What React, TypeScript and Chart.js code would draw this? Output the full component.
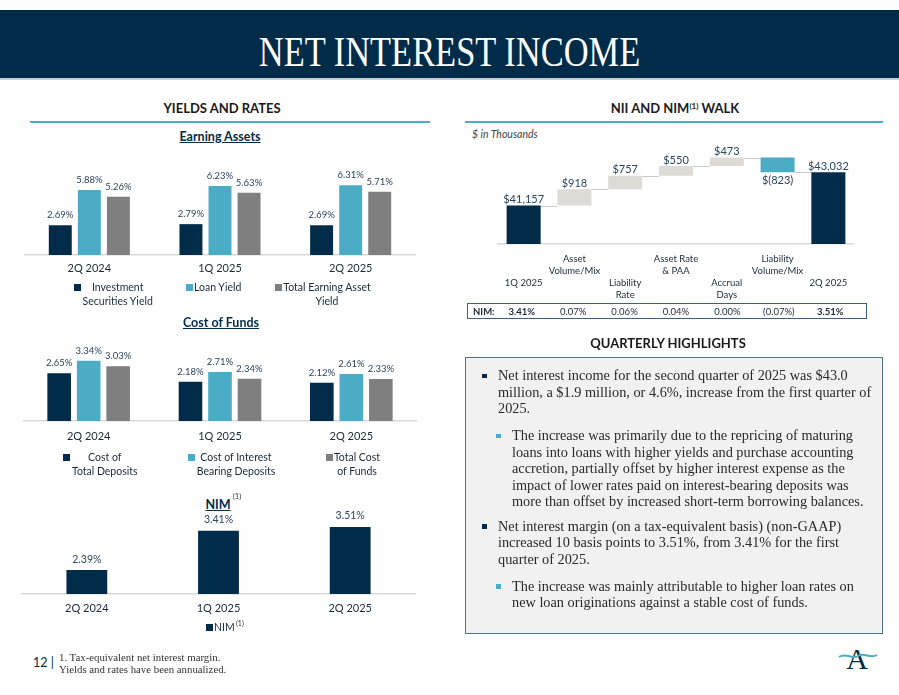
import React, { useEffect, useRef } from 'react';
import { Chart, registerables } from 'chart.js';

Chart.register(...registerables);

// ---------------- data ----------------
const quarters = ['2Q 2024', '1Q 2025', '2Q 2025'];

const earningSeriesNames = ['Investment Securities Yield', 'Loan Yield', 'Total Earning Asset Yield'];
const earningLegendLines = [['Investment', 'Securities Yield'], ['Loan Yield'], ['Total Earning Asset', 'Yield']];
const investmentSecuritiesYield = [2.69, 2.79, 2.69];
const loanYield = [5.88, 6.23, 6.31];
const totalEarningAssetYield = [5.26, 5.63, 5.71];

const fundsSeriesNames = ['Cost of Total Deposits', 'Cost of Interest Bearing Deposits', 'Total Cost of Funds'];
const fundsLegendLines = [['Cost of', 'Total Deposits'], ['Cost of Interest', 'Bearing Deposits'], ['Total Cost', 'of Funds']];
const costOfTotalDeposits = [2.65, 2.18, 2.12];
const costOfInterestBearingDeposits = [3.34, 2.71, 2.61];
const totalCostOfFunds = [3.03, 2.34, 2.33];

const nimValues = [2.39, 3.41, 3.51];

const walkCategories = [
  ['1Q 2025'],
  ['Asset', 'Volume/Mix'],
  ['Liability', 'Rate'],
  ['Asset Rate', '& PAA'],
  ['Accrual', 'Days'],
  ['Liability', 'Volume/Mix'],
  ['2Q 2025'],
];
const walkValues = [41157, 918, 757, 550, 473, -823, 43032];
const walkIsTotal = [true, false, false, false, false, false, true];
const walkNim = [3.41, 0.07, 0.06, 0.04, 0.0, -0.07, 3.51];

// ---------------- style ----------------
const NAVY = '#002B49';
const TEAL = '#4BACC6';
const GRAY = '#7F7F7F';
const FLOAT = '#DEDBD6';
const AXIS = '#D9D9D9';
const TICK = '#1B2A3A';
const VAL = '#2B4560';
const SANS = 'Lato, "Noto Sans", sans-serif';
const SERIF = '"Liberation Serif", "DejaVu Serif", serif';

function makeValueLabels(cfg: {
  format: (v: any, i: number) => string;
  font: string;
  color: string;
  offset: number;
  offsetBelow?: number;
  below?: (v: any, i: number) => boolean;
}) {
  return {
    id: 'valueLabels',
    afterDatasetsDraw(chart: any) {
      const ctx = chart.ctx;
      ctx.save();
      ctx.font = cfg.font;
      ctx.fillStyle = cfg.color;
      ctx.textAlign = 'center';
      ctx.textBaseline = 'middle';
      chart.data.datasets.forEach((ds: any, di: number) => {
        const meta = chart.getDatasetMeta(di);
        meta.data.forEach((el: any, i: number) => {
          const raw = ds.data[i];
          const top = Math.min(el.y, el.base);
          const bottom = Math.max(el.y, el.base);
          const below = cfg.below ? cfg.below(raw, i) : false;
          const y = below ? bottom + (cfg.offsetBelow || cfg.offset) : top - cfg.offset;
          ctx.fillText(cfg.format(raw, i), el.x, y);
        });
      });
      ctx.restore();
    },
  };
}

const pct = (v: number) => v.toFixed(2) + '%';

function baseOptions(yMin: number, yMax: number, pad: number, axisH: number, tickSize: number, cat: number, bar: number) {
  return {
    responsive: false,
    animation: false,
    devicePixelRatio: 1,
    layout: { padding: 0 },
    plugins: { legend: { display: false }, tooltip: { enabled: false } },
    datasets: { bar: { categoryPercentage: cat, barPercentage: bar } },
    scales: {
      x: {
        grid: { display: false, drawTicks: false },
        border: { display: true, color: AXIS, width: 1.5 },
        ticks: { font: { family: SANS, size: tickSize }, color: TICK, padding: pad, maxRotation: 0, autoSkip: false },
        afterFit: (s: any) => {
          s.height = axisH;
        },
      },
      y: { display: false, min: yMin, max: yMax },
    },
  };
}

function earningConfig(): any {
  const sets = [investmentSecuritiesYield, loanYield, totalEarningAssetYield];
  const colors = [NAVY, TEAL, GRAY];
  return {
    type: 'bar',
    data: {
      labels: quarters,
      datasets: sets.map((d, i) => ({ label: earningSeriesNames[i], data: d, backgroundColor: colors[i] })),
    },
    options: baseOptions(0, 8.5, 7, 30, 11, 0.667, 0.79),
    plugins: [makeValueLabels({ format: pct, font: `9.5px ${SANS}`, color: VAL, offset: 10 })],
  };
}

function fundsConfig(): any {
  const sets = [costOfTotalDeposits, costOfInterestBearingDeposits, totalCostOfFunds];
  const colors = [NAVY, TEAL, GRAY];
  return {
    type: 'bar',
    data: {
      labels: quarters,
      datasets: sets.map((d, i) => ({ label: fundsSeriesNames[i], data: d, backgroundColor: colors[i] })),
    },
    options: baseOptions(0, 4.49, 9, 30, 11, 0.674, 0.8),
    plugins: [makeValueLabels({ format: pct, font: `9.5px ${SANS}`, color: VAL, offset: 10 })],
  };
}

function nimConfig(): any {
  return {
    type: 'bar',
    data: { labels: quarters, datasets: [{ label: 'NIM', data: nimValues, backgroundColor: NAVY }] },
    options: baseOptions(1.77, 4.08, 8, 30, 11, 0.62, 0.5),
    plugins: [makeValueLabels({ format: pct, font: `10.5px ${SANS}`, color: VAL, offset: 11 })],
  };
}

function walkConfig(): any {
  const data: any[] = [];
  const levels: number[] = [];
  let running = 0;
  walkValues.forEach((v, i) => {
    if (walkIsTotal[i]) {
      data.push(v);
      running = v;
    } else {
      data.push([running, running + v]);
      running = running + v;
    }
    levels.push(running);
  });
  const colors = walkValues.map((v, i) => (walkIsTotal[i] ? NAVY : v < 0 ? TEAL : FLOAT));
  const opts: any = baseOptions(39000, 44840, 9, 60, 9.5, 0.67, 1);
  opts.scales.x.ticks.font = { family: SANS, size: 9.5, lineHeight: '12px' };
  opts.scales.x.ticks.callback = (_v: any, i: number) =>
    i % 2 === 0 ? ['', '', ...walkCategories[i]] : walkCategories[i];
  const connectors = {
    id: 'connectors',
    beforeDatasetsDraw(chart: any) {
      const ctx = chart.ctx;
      const meta = chart.getDatasetMeta(0);
      const y = chart.scales.y;
      ctx.save();
      ctx.strokeStyle = '#C9C9C9';
      ctx.lineWidth = 1;
      for (let i = 0; i < meta.data.length - 1; i++) {
        const a = meta.data[i];
        const b = meta.data[i + 1];
        const py = Math.round(y.getPixelForValue(levels[i])) + 0.5;
        ctx.beginPath();
        ctx.moveTo(a.x + a.width / 2, py);
        ctx.lineTo(b.x - b.width / 2, py);
        ctx.stroke();
      }
      ctx.restore();
    },
  };
  return {
    type: 'bar',
    data: {
      labels: walkCategories.map((c) => c.join(' ')),
      datasets: [{ label: 'NII', data, backgroundColor: colors }],
    },
    options: opts,
    plugins: [
      connectors,
      makeValueLabels({
        format: (_v: any, i: number) => {
          const v = walkValues[i];
          const s = Math.abs(v).toLocaleString('en-US');
          return v < 0 ? `$(${s})` : `$${s}`;
        },
        font: `11px ${SANS}`,
        color: VAL,
        offset: 6,
        offsetBelow: 8,
        below: (_v: any, i: number) => walkValues[i] < 0,
      }),
    ],
  };
}

function ChartBox({ left, top, width, height, make }: any) {
  const ref = useRef<HTMLCanvasElement>(null);
  useEffect(() => {
    const chart = new Chart(ref.current as HTMLCanvasElement, make());
    return () => chart.destroy();
  }, []);
  return (
    <canvas
      ref={ref}
      width={width}
      height={height}
      style={{ position: 'absolute', left, top, width, height }}
    />
  );
}

// text helper: x = center (or left when align left), y = vertical center
function T({ x, y, w = 200, align = 'center', size = 12, weight = 400, color = TICK, family = SANS, lh = 14, italic = false, underline = false, children, style }: any) {
  const left = align === 'center' ? x - w / 2 : x;
  return (
    <div
      style={{
        position: 'absolute',
        left,
        top: y - lh / 2,
        width: w,
        textAlign: align,
        fontSize: size,
        fontWeight: weight,
        color,
        fontFamily: family,
        lineHeight: lh + 'px',
        fontStyle: italic ? 'italic' : 'normal',
        textDecoration: underline ? 'underline' : 'none',
        whiteSpace: 'nowrap',
        ...style,
      }}
    >
      {children}
    </div>
  );
}

function Sq({ x, y, c, s = 7 }: any) {
  return <div style={{ position: 'absolute', left: x, top: y - s / 2, width: s, height: s, background: c }} />;
}

function Legend({ items, colors, sqX, centers, y1, lh }: any) {
  return (
    <>
      {items.map((lines: string[], i: number) => (
        <React.Fragment key={i}>
          <Sq x={sqX[i]} y={y1} c={colors[i]} />
          {lines.map((ln, j) => (
            <T key={j} x={centers[i]} y={y1 + j * lh} w={140} size={10.5} color={TICK}>
              {ln}
            </T>
          ))}
        </React.Fragment>
      ))}
    </>
  );
}

const para1 = [
  'Net interest income for the second quarter of 2025 was $43.0',
  'million, a $1.9 million, or 4.6%, increase from the first quarter of',
  '2025.',
];
const para2 = [
  'The increase was primarily due to the repricing of maturing',
  'loans into loans with higher yields and purchase accounting',
  'accretion, partially offset by higher interest expense as the',
  'impact of lower rates paid on interest-bearing deposits was',
  'more than offset by increased short-term borrowing balances.',
];
const para3 = [
  'Net interest margin (on a tax-equivalent basis) (non-GAAP)',
  'increased 10 basis points to 3.51%, from 3.41% for the first',
  'quarter of 2025.',
];
const para4 = [
  'The increase was mainly attributable to higher loan rates on',
  'new loan originations against a stable cost of funds.',
];

function Para({ lines, x, y, level }: any) {
  const lh = 16.5;
  return (
    <>
      <div
        style={{
          position: 'absolute',
          left: level === 1 ? 482 : 496,
          top: y - 2,
          width: 4.5,
          height: 4.5,
          background: level === 1 ? NAVY : TEAL,
        }}
      />
      <div
        style={{
          position: 'absolute',
          left: x,
          top: y - lh / 2,
          fontFamily: SERIF,
          fontSize: 14.3,
          lineHeight: lh + 'px',
          color: '#2A2A2A',
          whiteSpace: 'nowrap',
        }}
      >
        {lines.map((l: string, i: number) => (
          <div key={i}>{l}</div>
        ))}
      </div>
    </>
  );
}

export default function App() {
  const fmtNim = (v: number) => (v < 0 ? `(${Math.abs(v).toFixed(2)}%)` : `${v.toFixed(2)}%`);
  return (
    <div
      style={{
        position: 'absolute',
        left: 0,
        top: 0,
        width: 899,
        height: 695,
        background: '#fff',
        overflow: 'hidden',
        fontFamily: SANS,
      }}
    >
      {/* header */}
      <div style={{ position: 'absolute', left: 0, top: 10, width: 899, height: 67.5, background: NAVY }} />
      <div style={{ position: 'absolute', left: 0, top: 77.5, width: 899, height: 2, background: '#C8CDD2' }} />
      <div
        style={{
          position: 'absolute',
          left: 0,
          top: 27,
          width: 899,
          textAlign: 'center',
          color: '#fff',
          fontFamily: SERIF,
          fontSize: 42,
          lineHeight: '50px',
          transform: 'scaleX(0.82)',
        }}
      >
        NET INTEREST INCOME
      </div>

      {/* left section */}
      <T x={222} y={107.5} w={300} size={13} weight={700} color="#1A1A1A">YIELDS AND RATES</T>
      <div style={{ position: 'absolute', left: 30, top: 121, width: 400, height: 2, background: TEAL }} />

      <T x={220} y={136.5} w={200} size={12.5} weight={700} color={NAVY} underline>Earning Assets</T>
      <ChartBox left={24} top={161} width={392} height={124} make={earningConfig} />
      <Legend
        items={earningLegendLines}
        colors={[NAVY, TEAL, GRAY]}
        sqX={[74, 186, 275]}
        centers={[117.7, 217.7, 327]}
        y1={287}
        lh={13.5}
      />

      <T x={221} y={322.7} w={200} size={12.5} weight={700} color={NAVY} underline>Cost of Funds</T>
      <ChartBox left={23} top={340} width={394} height={111} make={fundsConfig} />
      <Legend
        items={fundsLegendLines}
        colors={[NAVY, TEAL, GRAY]}
        sqX={[63, 188, 326]}
        centers={[104.8, 236, 357]}
        y1={457}
        lh={14}
      />

      <T x={218} y={505} w={40} size={12.5} weight={700} color={NAVY} underline>NIM</T>
      <T x={237} y={497} w={20} size={7.5} color="#333">(1)</T>
      <ChartBox left={21} top={505} width={395} height={119} make={nimConfig} />
      <Sq x={206} y={627.5} c={NAVY} />
      <T x={214} y={627} w={30} align="left" size={10.5}>NIM</T>
      <T x={236} y={623} w={20} align="left" size={7} color="#333">(1)</T>

      {/* footer */}
      <T x={33} y={662.5} w={40} align="left" size={12.5} color={NAVY}>12 |</T>
      <T x={59} y={657} w={250} align="left" size={10.8} family={SERIF} color="#333" lh={12}>
        1. Tax-equivalent net interest margin.
      </T>
      <T x={59} y={669} w={250} align="left" size={10.8} family={SERIF} color="#333" lh={12}>
        Yields and rates have been annualized.
      </T>
      <T x={857} y={659} w={40} size={30} family={SERIF} color={NAVY} lh={32}>A</T>
      <svg style={{ position: 'absolute', left: 838, top: 651 }} width={40} height={10}>
        <path d="M1 6 C 8 1, 14 9, 20 5 C 26 1, 32 8, 39 4" stroke={TEAL} strokeWidth={2} fill="none" />
      </svg>

      {/* right section */}
      <T x={675} y={107.5} w={300} size={13} weight={700} color="#1A1A1A">
        NII AND NIM<sup style={{ fontSize: 8, verticalAlign: 'top', position: 'relative', top: -2 }}>(1)</sup> WALK
      </T>
      <div style={{ position: 'absolute', left: 465, top: 121, width: 418, height: 2, background: TEAL }} />
      <T x={472} y={134} w={150} align="left" size={10.5} italic color="#444">$ in Thousands</T>
      <ChartBox left={496} top={140} width={360} height={164} make={walkConfig} />

      {/* NIM row */}
      <div
        style={{
          position: 'absolute',
          left: 467,
          top: 303,
          width: 400,
          height: 16,
          border: '1px solid #3D5F80',
          boxSizing: 'border-box',
        }}
      />
      <T x={473} y={311.5} w={40} align="left" size={9.5} weight={700} color={TICK}>NIM:</T>
      {walkNim.map((v, i) => (
        <T key={i} x={496 + (i + 0.5) * (360 / 7)} y={311.5} w={50} size={9.5} weight={walkIsTotal[i] ? 700 : 400} color={TICK}>
          {fmtNim(v)}
        </T>
      ))}

      <T x={668} y={342.7} w={300} size={13} weight={700} color="#1A1A1A">QUARTERLY HIGHLIGHTS</T>
      <div
        style={{
          position: 'absolute',
          left: 465,
          top: 357,
          width: 418,
          height: 277,
          background: '#F1F1F2',
          border: '1px solid #52708F',
          boxSizing: 'border-box',
        }}
      />
      <Para lines={para1} x={498} y={375.7} level={1} />
      <Para lines={para2} x={512} y={435.7} level={2} />
      <Para lines={para3} x={498} y={526} level={1} />
      <Para lines={para4} x={512} y={586} level={2} />
    </div>
  );
}
